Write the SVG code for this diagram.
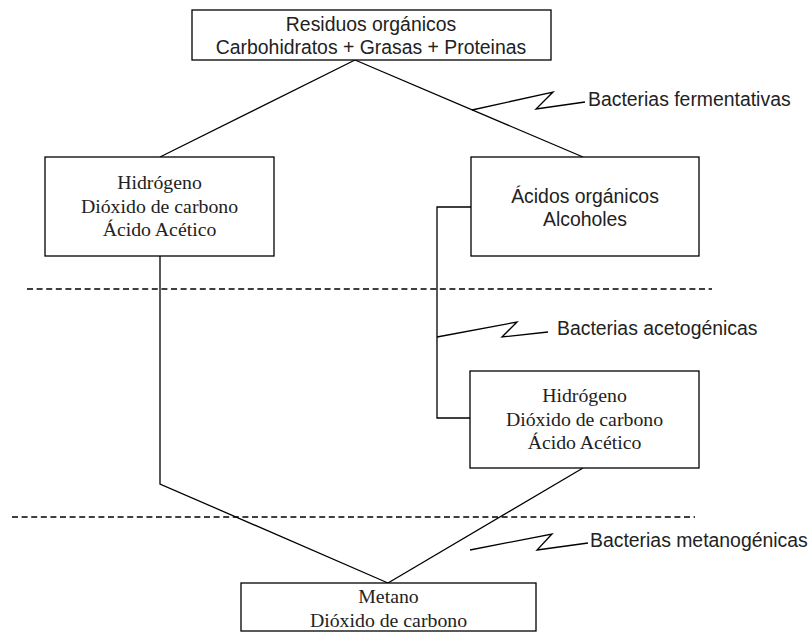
<svg xmlns="http://www.w3.org/2000/svg" width="810" height="632" viewBox="0 0 810 632">
<style>
.box{fill:#fff;stroke:#000;stroke-width:1.3}
.ln{fill:none;stroke:#000;stroke-width:1.3}
.dash{fill:none;stroke:#000;stroke-width:1.3;stroke-dasharray:6 3.6}
.sans{font-family:"Liberation Sans",Arial,sans-serif;font-size:19.4px;fill:#222}
.serif{font-family:"Liberation Serif","Times New Roman",serif;font-size:19.8px;fill:#222}
.c{text-anchor:middle}
</style>
<rect width="810" height="632" fill="#fff"/>
<g id="separators">
<line class="dash" x1="27" y1="289" x2="712" y2="289"/>
<line class="dash" x1="12" y1="517" x2="695" y2="517"/>
</g>
<g id="connectors">
<polyline class="ln" points="355,60 160,157"/>
<polyline class="ln" points="355,60 583,157"/>
<polyline class="ln" points="160,256 160,484 388,583"/>
<polyline class="ln" points="583,468 388,583"/>
<polyline class="ln" points="471,207 437,207 437,418 470,418"/>
</g>
<g id="label-fermentativas">
<polyline class="ln" points="472,110 553,92 536,109 585,102"/>
<text class="sans" x="588" y="106">Bacterias fermentativas</text>
</g>
<g id="label-acetogenicas">
<polyline class="ln" points="437,337 517,322 502,337 548,332"/>
<text class="sans" x="557" y="335">Bacterias acetogénicas</text>
</g>
<g id="label-metanogenicas">
<polyline class="ln" points="470,550 552,534 537,550 588,543"/>
<text class="sans" x="590" y="547">Bacterias metanogénicas</text>
</g>
<g id="residuos">
<rect class="box" x="192" y="10" width="359" height="50"/>
<text class="sans c" x="371" y="30.5">Residuos orgánicos</text>
<text class="sans c" x="371" y="53.5">Carbohidratos + Grasas + Proteinas</text>
</g>
<g id="hidrogeno-1">
<rect class="box" x="45" y="157" width="229" height="99"/>
<text class="serif c" x="159.5" y="189">Hidrógeno</text>
<text class="serif c" x="159.5" y="212.5">Dióxido de carbono</text>
<text class="serif c" x="159.5" y="236">Ácido Acético</text>
</g>
<g id="acidos">
<rect class="box" x="471" y="157" width="228" height="99"/>
<text class="sans c" x="585" y="203">Ácidos orgánicos</text>
<text class="sans c" x="585" y="226">Alcoholes</text>
</g>
<g id="hidrogeno-2">
<rect class="box" x="470" y="371" width="229" height="97"/>
<text class="serif c" x="584.5" y="402">Hidrógeno</text>
<text class="serif c" x="584.5" y="425.5">Dióxido de carbono</text>
<text class="serif c" x="584.5" y="449">Ácido Acético</text>
</g>
<g id="metano">
<rect class="box" x="241" y="583" width="295" height="48"/>
<text class="serif c" x="388.5" y="603">Metano</text>
<text class="serif c" x="388.5" y="627">Dióxido de carbono</text>
</g>
</svg>
